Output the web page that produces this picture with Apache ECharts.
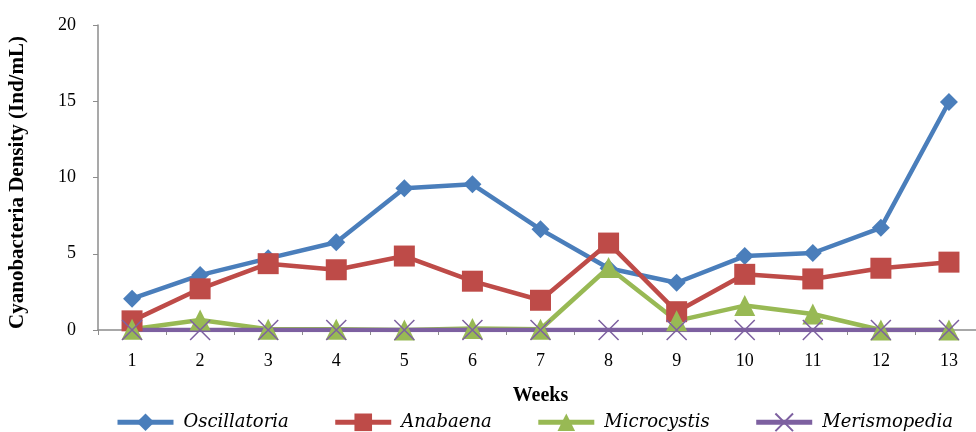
<!DOCTYPE html>
<html><head><meta charset="utf-8">
<script src="https://cdn.jsdelivr.net/npm/echarts@6/dist/echarts.min.js"></script>
<style>html,body{margin:0;padding:0;background:#fff}#c{width:976px;height:432px}</style>
</head><body><div id="c"></div>
<script>
var weeks = ['1','2','3','4','5','6','7','8','9','10','11','12','13'];
var oscillatoria = [2.05, 3.6, 4.7, 5.75, 9.3, 9.55, 6.6, 4.05, 3.1, 4.85, 5.05, 6.7, 14.95];
var anabaena = [0.6, 2.7, 4.35, 3.95, 4.85, 3.2, 1.95, 5.7, 1.2, 3.65, 3.35, 4.05, 4.45];
var microcystis = [0.05, 0.65, 0.05, 0.05, 0.0, 0.1, 0.05, 4.1, 0.6, 1.6, 1.05, 0.0, 0.0];
var merismopedia = [0, 0, 0, 0, 0, 0, 0, 0, 0, 0, 0, 0, 0];
var serif = 'Liberation Serif';
var chart = echarts.init(document.getElementById('c'));
function s(name, data, color, symbol, size, extra) {
  var o = {name: name, type: 'line', data: data, symbol: symbol, symbolSize: size,
    lineStyle: {color: color, width: 4.5}, itemStyle: {color: color}, z: 2};
  if (extra) for (var k in extra) o[k] = extra[k];
  return o;
}
chart.setOption({
  animation: false,
  textStyle: {fontFamily: serif},
  grid: {left: 98, top: 25, width: 885, height: 305, outerBoundsMode: 'none', containLabel: false},
  legend: {top: 406, left: 110, itemWidth: 56, itemHeight: 22, itemGap: 44,
    lineStyle: {width: 5},
    textStyle: {fontFamily: '"DejaVu Serif", serif', fontStyle: 'italic', fontSize: 18, color: '#000', padding: [0, 0, 0, 5]}},
  xAxis: {type: 'category', data: weeks, boundaryGap: true,
    name: 'Weeks', nameLocation: 'middle', nameGap: 56,
    nameTextStyle: {fontFamily: serif, fontWeight: 'bold', fontSize: 20, color: '#000'},
    axisLine: {lineStyle: {color: '#8c8c8c', width: 1.5}},
    axisTick: {show: true, length: 5, lineStyle: {color: '#8c8c8c'}},
    axisLabel: {fontFamily: serif, fontSize: 18, color: '#000', margin: 22}},
  yAxis: {type: 'value', min: 0, max: 20, interval: 5,
    name: 'Cyanobacteria Density (Ind/mL)', nameLocation: 'middle', nameGap: 70, nameRotate: 90,
    nameTextStyle: {fontFamily: serif, fontWeight: 'bold', fontSize: 21, color: '#000', padding: [0, 10, 0, 0]},
    axisLine: {show: true, lineStyle: {color: '#8c8c8c', width: 1.5}},
    axisTick: {show: true, length: 5, lineStyle: {color: '#8c8c8c'}},
    splitLine: {show: false},
    axisLabel: {fontFamily: serif, fontSize: 18, color: '#000', margin: 22}},
  series: [
    s('Oscillatoria', oscillatoria, '#4A7EBB', 'diamond', 18),
    s('Anabaena', anabaena, '#BE4B48', 'rect', 21),
    s('Microcystis', microcystis, '#98B954', 'triangle', 21),
    s('Merismopedia', merismopedia, '#7D60A0', 'path://M0,0L10,10M10,0L0,10', 20,
      {itemStyle: {color: 'none', borderColor: '#7D60A0', borderWidth: 1.5}})
  ]
});
</script></body></html>
